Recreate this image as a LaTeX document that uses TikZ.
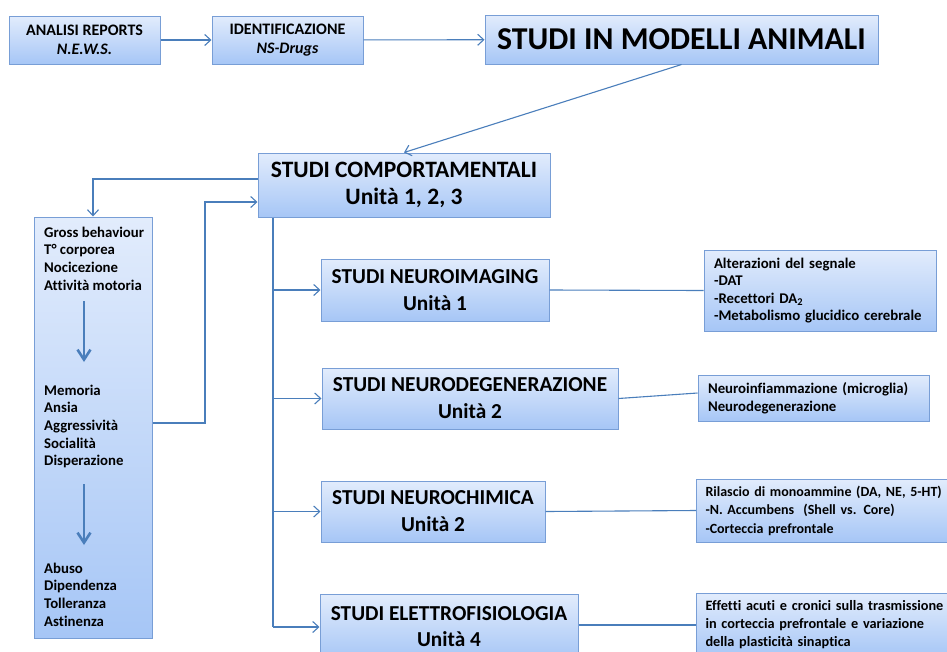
\documentclass[tikz,border=0pt]{standalone}
\usepackage{fontspec}
\setmainfont{Carlito}[Ligatures=CommonOff]
\usetikzlibrary{arrows.meta}
\definecolor{bordc}{RGB}{120,158,214}
\definecolor{linec}{RGB}{74,126,187}
\definecolor{topc}{RGB}{226,236,252}
\definecolor{botc}{RGB}{166,198,246}
\begin{document}
\begin{tikzpicture}[x=1pt,y=-1pt,
  box/.style={draw=bordc,line width=1pt,top color=topc,bottom color=botc,inner sep=0pt,align=center,font=\bfseries},
  lbox/.style={box,align=left,inner xsep=10pt},
  conn/.style={draw=linec,line width=1.1pt},
  arr/.style={conn,-{Straight Barb[length=6pt,width=11pt,line width=1.1pt]}},
  bigarr/.style={draw=linec,line width=2.6pt,-{Straight Barb[length=10pt,width=13pt,line width=2.6pt]}},
  smalltxt/.style={font=\bfseries\fontsize{14.8}{17.7}\selectfont,align=left,inner sep=0pt,anchor=west},
  stud/.style={box,font=\bfseries\fontsize{21.3}{27}\selectfont}
]
\useasboundingbox (0,0) rectangle (947,651);
% top row
\node[box,minimum width=151pt,minimum height=48pt,font=\bfseries\fontsize{16}{19}\selectfont] (A) at (84.5,40) {ANALISI REPORTS\\\textit{N.E.W.S.}};
\node[box,minimum width=151pt,minimum height=48pt,font=\bfseries\fontsize{16}{19}\selectfont] (B) at (287.5,40) {IDENTIFICAZIONE\\\textit{NS-Drugs}};
\node[box,minimum width=393pt,minimum height=49pt,font=\bfseries\fontsize{31.8}{34}\selectfont] (C) at (681.5,39.5) {STUDI IN MODELLI ANIMALI};
% behavioural
\node[box,minimum width=292pt,minimum height=64pt,font=\bfseries\fontsize{23.5}{27}\selectfont] (D) at (404,185) {STUDI COMPORTAMENTALI\\Unità 1, 2, 3};
\node[box,minimum width=118pt,minimum height=421pt] (E) at (93,427.5) {};
\node[smalltxt] (e1) at (44,258.5) {Gross behaviour\\T° corporea\\Nocicezione\\Attività motoria};
\node[smalltxt] (e2) at (44,426.5) {Memoria\\Ansia\\Aggressività\\Socialità\\Disperazione};
\node[smalltxt] (e3) at (44,594.5) {Abuso\\Dipendenza\\Tolleranza\\Astinenza};
\coordinate (ea1) at (84,301);
\coordinate (eb1) at (84,362);
\coordinate (ea2) at (84,484);
\coordinate (eb2) at (84,545);
\draw[bigarr] (ea1) -- (eb1);
\draw[bigarr] (ea2) -- (eb2);
% studies
\node[stud,minimum width=228pt,minimum height=62pt] (N1) at (435,290) {STUDI NEUROIMAGING\\Unità 1};
\node[stud,minimum width=296pt,minimum height=61pt] (N2) at (470,398.5) {STUDI NEURODEGENERAZIONE\\Unità 2};
\node[stud,minimum width=224pt,minimum height=61pt] (N3) at (433,511.5) {STUDI NEUROCHIMICA\\Unità 2};
\node[stud,minimum width=258pt,minimum height=66pt,font=\bfseries\fontsize{21.3}{26}\selectfont] (N4) at (449,627) {STUDI ELETTROFISIOLOGIA\\Unità 4};
% right boxes
\node[lbox,minimum width=232pt,minimum height=81pt,text width=212pt,font=\bfseries\fontsize{14.8}{17.5}\selectfont] (F) at (820,290.5) {Alterazioni del segnale\\-DAT\\-Recettori DA\textsubscript{2}\\-Metabolismo glucidico cerebrale};
\node[lbox,minimum width=231pt,minimum height=46pt,text width=211pt,font=\bfseries\fontsize{14.8}{18}\selectfont] (G) at (813.5,398) {Neuroinfiammazione (microglia)\\Neurodegenerazione};
\node[lbox,anchor=west,minimum height=63pt,text width=290pt,inner xsep=9pt,font=\bfseries\fontsize{14}{18.5}\selectfont] (H) at (696,510.5) {Rilascio di monoammine\ (DA, NE, 5-HT)\\-N. Accumbens\ \ (Shell vs. Core)\\-Corteccia prefrontale};
\node[lbox,anchor=west,minimum height=64pt,text width=290pt,inner xsep=9pt,font=\bfseries\fontsize{14.3}{18}\selectfont] (I) at (696,625) {Effetti acuti e cronici sulla trasmissione\\in corteccia prefrontale e variazione\\della plasticità sinaptica};
% connectors
\draw[arr] (A) -- (B);
\draw[arr] (B) -- (C);
\draw[arr] (C.south) -- (D.north);
\draw[arr] ([yshift=6pt]D.west) -| (E.north);
\coordinate (j1) at (205,202);
\draw[arr] ([yshift=4.5pt]E.east) -| (j1) -- ([yshift=-17pt]D.west);
\coordinate (tr) at (273,627);
\draw[conn] (D.south -| tr) -- (tr);
\draw[arr] (tr |- N1.west) -- (N1.west);
\draw[arr] (tr |- N2.west) -- (N2.west);
\draw[arr] (tr |- N3.west) -- (N3.west);
\draw[arr] (tr) -- (N4.west);
\draw[conn] (N1.east) -- (F.west);
\draw[conn] (N2.east) -- ([yshift=5pt]G.west);
\draw[conn] (N3.east) -- (H.west);
\draw[conn] ([yshift=2pt]N4.east) -- (I.west);
\end{tikzpicture}
\end{document}
